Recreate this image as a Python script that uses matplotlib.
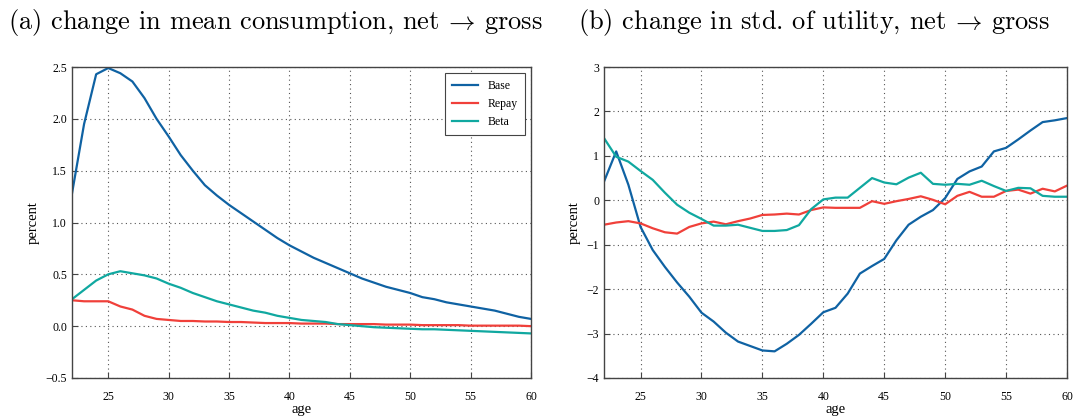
import numpy as np
import matplotlib
matplotlib.use("Agg")
import matplotlib.pyplot as plt

# Data
ages = list(range(22, 61))

cons_base = [1.28, 1.95, 2.43, 2.49, 2.44, 2.36, 2.20, 2.00, 1.83, 1.65,
             1.50, 1.36, 1.26, 1.17, 1.09, 1.01, 0.93, 0.85, 0.78, 0.72,
             0.66, 0.61, 0.56, 0.51, 0.46, 0.42, 0.38, 0.35, 0.32, 0.28,
             0.26, 0.23, 0.21, 0.19, 0.17, 0.15, 0.12, 0.09, 0.07]
cons_repay = [0.25, 0.24, 0.24, 0.24, 0.19, 0.16, 0.10, 0.07, 0.06, 0.05,
              0.05, 0.045, 0.045, 0.04, 0.04, 0.035, 0.03, 0.03, 0.03, 0.025,
              0.025, 0.025, 0.02, 0.02, 0.02, 0.02, 0.015, 0.015, 0.015, 0.01,
              0.01, 0.01, 0.01, 0.005, 0.005, 0.005, 0.005, 0.005, 0.0]
cons_beta = [0.26, 0.35, 0.44, 0.50, 0.53, 0.51, 0.49, 0.46, 0.41, 0.37,
             0.32, 0.28, 0.24, 0.21, 0.18, 0.15, 0.13, 0.10, 0.08, 0.06,
             0.05, 0.04, 0.02, 0.01, 0.0, -0.01, -0.015, -0.02, -0.025, -0.03,
             -0.03, -0.035, -0.04, -0.045, -0.05, -0.055, -0.06, -0.065, -0.07]

util_base = [0.42, 1.10, 0.35, -0.60, -1.12, -1.50, -1.85, -2.17, -2.53, -2.73,
             -2.98, -3.18, -3.28, -3.38, -3.40, -3.23, -3.03, -2.78, -2.52, -2.42,
             -2.10, -1.65, -1.48, -1.32, -0.90, -0.55, -0.37, -0.22, 0.05, 0.48,
             0.65, 0.76, 1.10, 1.18, 1.37, 1.57, 1.76, 1.80, 1.85]
util_repay = [-0.55, -0.50, -0.47, -0.52, -0.63, -0.72, -0.75, -0.60, -0.52, -0.48,
              -0.54, -0.47, -0.41, -0.33, -0.32, -0.30, -0.32, -0.22, -0.16, -0.17,
              -0.17, -0.17, -0.02, -0.08, -0.02, 0.03, 0.09, 0.01, -0.09, 0.10,
              0.19, 0.08, 0.08, 0.21, 0.24, 0.15, 0.26, 0.20, 0.33]
util_beta = [1.40, 0.98, 0.87, 0.66, 0.46, 0.17, -0.10, -0.28, -0.42, -0.57,
             -0.57, -0.55, -0.62, -0.69, -0.69, -0.67, -0.56, -0.20, 0.02, 0.06,
             0.06, 0.28, 0.50, 0.40, 0.36, 0.51, 0.62, 0.37, 0.35, 0.37,
             0.35, 0.44, 0.32, 0.21, 0.28, 0.27, 0.10, 0.08, 0.08]

series_names = ["Base", "Repay", "Beta"]
colors = ["#0f62a3", "#f0403a", "#10a8a0"]

titles = [r"(a) change in mean consumption, net $\!\rightarrow\!$ gross",
          r"(b) change in std. of utility, net $\!\rightarrow\!$ gross"]

plt.rcParams["mathtext.fontset"] = "cm"
plt.rcParams["axes.unicode_minus"] = True
plt.rcParams["font.family"] = ["Liberation Serif", "DejaVu Serif"]

W, H = 1073, 416
fig = plt.figure(figsize=(10.73, 4.16), dpi=100)
ax1 = fig.add_axes([72 / W, 1 - 378 / H, 459 / W, 311 / H])
ax2 = fig.add_axes([604 / W, 1 - 378 / H, 463 / W, 311 / H])

for ax, data in [(ax1, [cons_base, cons_repay, cons_beta]),
                 (ax2, [util_base, util_repay, util_beta])]:
    for name, vals, c in zip(series_names, data, colors):
        ax.plot(ages, vals, color=c, lw=1.6, label=name)
    ax.set_xlim(22, 60)
    ax.set_xticks([25, 30, 35, 40, 45, 50, 55, 60])
    ax.grid(True, linestyle=(0, (1, 3)), color="#555555", lw=0.8)
    ax.tick_params(direction="in", labelsize=8.5, length=4, color="#444444")
    ax.tick_params(axis="x", pad=9)
    for sp in ax.spines.values():
        sp.set_color("#444444")
        sp.set_linewidth(1.0)
    ax.set_xlabel("age", fontsize=10.5, labelpad=0)
    ax.set_ylabel("percent", fontsize=10.5)

ax1.set_ylim(-0.5, 2.5)
ax1.set_yticks([-0.5, 0.0, 0.5, 1.0, 1.5, 2.0, 2.5])
ax1.yaxis.set_major_formatter(matplotlib.ticker.FuncFormatter(
    lambda v, p: ("\u2212" if v < 0 else "") + f"{abs(v):.1f}"))
ax2.set_ylim(-4, 3)
ax2.set_yticks([-4, -3, -2, -1, 0, 1, 2, 3])
ax2.yaxis.set_major_formatter(matplotlib.ticker.FuncFormatter(
    lambda v, p: ("\u2212" if v < 0 else "") + f"{abs(v):.0f}"))

leg = ax1.legend(loc="upper right", fontsize=8.5, fancybox=False,
                 framealpha=1, edgecolor="#444444", handlelength=2.2,
                 borderpad=0.6, labelspacing=0.5)
leg.get_frame().set_linewidth(0.8)

fig.text(8 / W, 1 - 22 / H, titles[0], family="cmr10", fontsize=19,
         va="center", ha="left")
fig.text(578 / W, 1 - 22 / H, titles[1], family="cmr10", fontsize=19,
         va="center", ha="left")

fig.savefig("out.png", dpi=100)
